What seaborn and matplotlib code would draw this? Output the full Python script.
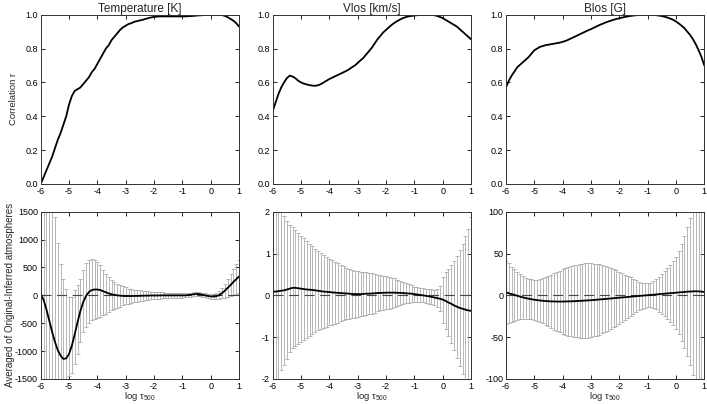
import numpy as np
import seaborn as sns
import matplotlib
matplotlib.use("Agg")
import matplotlib.pyplot as plt

# optical depth grid, log tau_500 from -6 to 1
log_tau = np.round(np.arange(-6.0, 1.0001, 0.1), 1)

titles = ["Temperature [K]", "Vlos [km/s]", "Blos [G]"]

# correlation between original and inferred atmospheres
corr_temp = [0.00, 0.04, 0.08, 0.12, 0.16, 0.21, 0.26, 0.30, 0.35, 0.40,
             0.47, 0.52, 0.55, 0.56, 0.57, 0.59, 0.61, 0.63, 0.66, 0.68,
             0.71, 0.74, 0.77, 0.80, 0.82, 0.85, 0.87, 0.89, 0.91, 0.925,
             0.935, 0.945, 0.95, 0.958, 0.962, 0.966, 0.970, 0.975, 0.980, 0.984,
             0.987, 0.989, 0.99, 0.99, 0.99, 0.99, 0.99, 0.99, 0.99, 0.99,
             0.99, 0.99, 0.991, 0.992, 0.993, 0.995, 0.996, 0.997, 0.998, 0.999,
             1.0, 1.0, 1.0, 1.0, 0.998, 0.993, 0.985, 0.975, 0.965, 0.95,
             0.93]
corr_vlos = [0.43, 0.48, 0.53, 0.57, 0.60, 0.625, 0.64, 0.635, 0.625, 0.61,
             0.60, 0.593, 0.588, 0.584, 0.581, 0.58, 0.583, 0.59, 0.60, 0.61,
             0.62, 0.628, 0.636, 0.644, 0.652, 0.66, 0.668, 0.678, 0.69, 0.70,
             0.715, 0.73, 0.745, 0.765, 0.785, 0.805, 0.83, 0.855, 0.875, 0.895,
             0.91, 0.925, 0.94, 0.952, 0.963, 0.972, 0.98, 0.986, 0.99, 0.993,
             0.995, 0.997, 0.998, 0.999, 1.0, 1.0, 0.999, 0.997, 0.993, 0.987,
             0.98, 0.97, 0.96, 0.95, 0.94, 0.93, 0.915, 0.90, 0.885, 0.87,
             0.855]
corr_blos = [0.57, 0.61, 0.64, 0.665, 0.69, 0.705, 0.72, 0.735, 0.75, 0.77,
             0.79, 0.80, 0.81, 0.815, 0.82, 0.823, 0.826, 0.829, 0.832, 0.835,
             0.84, 0.845, 0.852, 0.86, 0.868, 0.876, 0.884, 0.892, 0.90, 0.908,
             0.915, 0.923, 0.931, 0.939, 0.946, 0.953, 0.959, 0.965, 0.97, 0.975,
             0.979, 0.983, 0.987, 0.99, 0.993, 0.995, 0.997, 0.998, 0.999, 1.0,
             1.0, 1.0, 0.999, 0.997, 0.995, 0.992, 0.988, 0.983, 0.977, 0.97,
             0.96, 0.948, 0.935, 0.92, 0.90, 0.88, 0.855, 0.825, 0.79, 0.75,
             0.70]

# averaged difference original - inferred
diff_temp = [30, -80, -250, -450, -650, -830, -980, -1080, -1140, -1130,
             -1050, -900, -700, -480, -280, -120, -10, 60, 95, 105,
             105, 95, 75, 55, 35, 20, 8, 0, -5, -10,
             -12, -12, -12, -10, -10, -8, -6, -5, -4, -3,
             -2, -2, -1, 0, 0, 0, 0, 0, 0, 0,
             0, 0, 5, 12, 20, 25, 22, 12, 0, -10,
             -18, -22, -15, 5, 40, 85, 135, 185, 240, 290,
             340]
# temperature bars are not symmetric around the mean at the top
err_temp_up = [3000, 3000, 3000, 2800, 2500, 2230, 1925, 1640, 1430, 1240,
               1025, 875, 800, 665, 580, 570, 590, 570, 550, 535,
               495, 445, 385, 335, 295, 260, 232, 210, 190, 175,
               157, 135, 125, 115, 105, 97, 90, 83, 77, 71,
               66, 61, 57, 53, 50, 47, 45, 43, 41, 40,
               39, 38, 37, 36, 35, 34, 34, 35, 36, 38,
               40, 45, 55, 65, 90, 125, 165, 205, 240, 270,
               300]
err_temp_dn = [3000, 3000, 3000, 2800, 2500, 2230, 1925, 1640, 1430, 1240,
               400, 500, 530, 580, 550, 530, 550, 560, 545, 530,
               505, 475, 430, 385, 335, 290, 253, 220, 195, 170,
               148, 135, 125, 115, 105, 97, 90, 83, 77, 71,
               66, 61, 57, 53, 50, 47, 45, 43, 41, 40,
               39, 38, 37, 36, 35, 34, 34, 35, 36, 38,
               40, 45, 55, 65, 90, 125, 165, 205, 240, 270,
               300]

diff_vlos = [0.09, 0.09, 0.10, 0.11, 0.12, 0.14, 0.16, 0.18, 0.18, 0.17,
             0.16, 0.15, 0.14, 0.135, 0.13, 0.12, 0.11, 0.10, 0.09, 0.085,
             0.08, 0.07, 0.065, 0.06, 0.055, 0.05, 0.045, 0.04, 0.035, 0.03,
             0.03, 0.03, 0.035, 0.04, 0.04, 0.045, 0.05, 0.055, 0.06, 0.06,
             0.065, 0.065, 0.065, 0.065, 0.06, 0.06, 0.055, 0.05, 0.045, 0.04,
             0.03, 0.02, 0.01, 0.0, -0.01, -0.02, -0.035, -0.05, -0.065, -0.08,
             -0.10, -0.13, -0.17, -0.20, -0.24, -0.27, -0.30, -0.32, -0.34, -0.36,
             -0.37]
err_vlos = [2.5, 2.3, 2.1, 1.9, 1.78, 1.65, 1.52, 1.45, 1.39, 1.33,
            1.27, 1.21, 1.15, 1.10, 1.05, 1.00, 0.95, 0.91, 0.87, 0.83,
            0.80, 0.77, 0.74, 0.71, 0.68, 0.65, 0.62, 0.60, 0.58, 0.56,
            0.55, 0.53, 0.52, 0.51, 0.49, 0.48, 0.46, 0.44, 0.42, 0.41,
            0.40, 0.38, 0.36, 0.34, 0.31, 0.28, 0.26, 0.24, 0.22, 0.20,
            0.18, 0.18, 0.17, 0.17, 0.17, 0.18, 0.18, 0.19, 0.22, 0.30,
            0.55, 0.68, 0.80, 0.93, 1.07, 1.22, 1.38, 1.55, 1.75, 1.95,
            2.25]

diff_blos = [3.5, 2.5, 1.5, 0.5, -0.5, -1.5, -2.5, -3.3, -4.0, -4.6,
             -5.2, -5.7, -6.1, -6.5, -6.8, -7.0, -7.2, -7.3, -7.4, -7.4,
             -7.4, -7.3, -7.2, -7.1, -7.0, -6.8, -6.6, -6.4, -6.2, -6.0,
             -5.8, -5.5, -5.2, -4.9, -4.6, -4.3, -4.0, -3.7, -3.4, -3.1,
             -2.8, -2.5, -2.2, -1.9, -1.6, -1.3, -1.0, -0.7, -0.4, -0.1,
             0.2, 0.5, 0.8, 1.1, 1.4, 1.7, 2.0, 2.3, 2.6, 2.9,
             3.2, 3.5, 3.8, 4.1, 4.4, 4.6, 4.8, 4.9, 4.8, 4.5,
             4.0]
err_blos = [38, 36, 33, 31, 29, 27, 25.5, 24.5, 24, 24,
            24, 24.5, 25.5, 27, 28.5, 30, 32, 34, 35.5, 37,
            38.5, 40, 41, 42, 43, 43.5, 44, 44.5, 44.5, 44.5,
            44, 43.5, 43, 42, 41, 40, 38.5, 37, 35, 33,
            31, 29, 27, 25, 23, 21, 19, 17, 15.5, 14.5,
            14, 14.5, 16, 18, 21, 24, 27, 30, 34, 38,
            43, 50, 58, 67, 77, 88, 100, 112, 125, 138,
            150]

corr_list = [corr_temp, corr_vlos, corr_blos]
diff_list = [diff_temp, diff_vlos, diff_blos]
err_list = [[err_temp_dn, err_temp_up], err_vlos, err_blos]
diff_ylim = [(-1500, 1500), (-2, 2), (-100, 100)]
diff_ticks = [np.arange(-1500, 1501, 500), np.arange(-2, 3, 1), np.arange(-100, 101, 50)]

sns.set_style("ticks")
plt.rcParams["font.family"] = ["Liberation Sans", "DejaVu Sans"]
plt.rcParams["axes.unicode_minus"] = False
plt.rcParams["mathtext.fontset"] = "custom"
plt.rcParams["mathtext.rm"] = "Liberation Sans"
plt.rcParams["mathtext.it"] = "Liberation Sans"

fig = plt.figure(figsize=(7.07, 4.04), dpi=100)

lefts = [0.0576, 0.3857, 0.7157]
width = 0.2805


def style_axis(ax):
    ax.tick_params(direction="in", top=True, right=True, length=3, width=0.6,
                   labelsize=6.5, pad=2, colors="black")
    for sp in ax.spines.values():
        sp.set_linewidth(0.7)
        sp.set_color("#333333")
    ax.set_xlim(-6, 1)
    ax.set_xticks(np.arange(-6, 2, 1))


for i in range(3):
    # top row: correlation
    ax = fig.add_axes([lefts[i], 0.5446, width, 0.419])
    sns.lineplot(x=log_tau, y=corr_list[i], ax=ax, color="black", lw=1.3)
    ax.set_ylim(0, 1)
    ax.set_yticks(np.arange(0, 1.01, 0.2))
    ax.set_yticklabels([f"{v:.1f}" for v in np.arange(0, 1.01, 0.2)])
    style_axis(ax)
    ax.set_title(titles[i], fontsize=8.5, pad=2)
    if i == 0:
        ax.set_ylabel("Correlation r", fontsize=6.8, labelpad=5)

    # bottom row: averaged difference with error bars
    ax = fig.add_axes([lefts[i], 0.0619, width, 0.414])
    ax.errorbar(log_tau, diff_list[i], yerr=err_list[i], fmt="none",
                ecolor="#ababab", elinewidth=0.6, capsize=1.1, capthick=0.6)
    ax.axhline(0, color="#444444", lw=0.8, ls=(0, (9, 5)))
    sns.lineplot(x=log_tau, y=diff_list[i], ax=ax, color="black", lw=1.3)
    ax.set_ylim(*diff_ylim[i])
    ax.set_yticks(diff_ticks[i])
    style_axis(ax)
    ax.set_xlabel(r"log $\tau_{500}$", fontsize=6.8, labelpad=-0.5)
    if i == 0:
        ax.set_ylabel("Averaged of Original-Inferred atmospheres", fontsize=7.0, labelpad=0)

fig.savefig("out.png", dpi=100)
